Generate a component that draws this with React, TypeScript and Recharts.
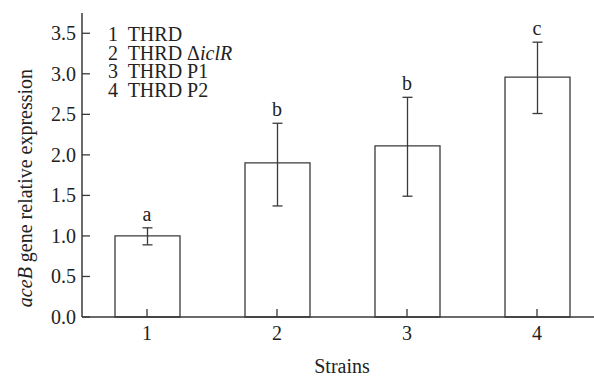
import React from 'react'
import {
  Bar,
  ComposedChart,
  ErrorBar,
  LabelList,
  Line,
  XAxis,
  YAxis,
} from 'recharts'

const strains = ['1', '2', '3', '4']
const expression = [1.0, 1.9, 2.11, 2.96]
const errLow = [0.11, 0.53, 0.62, 0.45]
const errHigh = [0.1, 0.49, 0.6, 0.43]
const letters = ['a', 'b', 'b', 'c']
const legendNames = ['THRD', 'THRD Δ', 'THRD P1', 'THRD P2']
const yTicks = [0, 0.5, 1, 1.5, 2, 2.5, 3, 3.5]

const data = strains.map((s, i) => ({
  strain: s,
  value: expression[i],
  err: [errLow[i], errHigh[i]],
  top: expression[i] + errHigh[i],
  letter: letters[i],
}))

const font = '"Liberation Serif", "Times New Roman", serif'
const fs = 20
const ink = '#222'
const line = '#3a3a3a'

function YTick(props: any) {
  const { x, y, payload } = props
  return (
    <g>
      <line x1={x + 6} x2={x + 14} y1={y} y2={y} stroke={line} strokeWidth={1.3} />
      <text x={x} y={y} dy={7} textAnchor="end" fontSize={fs} fontFamily={font} fill={ink}>
        {payload.value.toFixed(1)}
      </text>
    </g>
  )
}

function XTick(props: any) {
  const { x, y, payload } = props
  return (
    <g>
      <line x1={x} x2={x} y1={y - 8} y2={y - 16} stroke={line} strokeWidth={1.3} />
      <text x={x} y={y} dy={15} textAnchor="middle" fontSize={fs} fontFamily={font} fill={ink}>
        {payload.value}
      </text>
    </g>
  )
}

export default function App() {
  return (
    <div style={{ position: 'absolute', left: 0, top: 0, width: 594, height: 376, overflow: 'hidden', background: '#fff' }}>
      <ComposedChart
        width={610}
        height={376}
        data={data}
        margin={{ top: 13, right: 8, bottom: 0, left: 0 }}
      >
        <XAxis
          dataKey="strain"
          tickLine={false}
          tickSize={0}
          tickMargin={8}
          axisLine={{ stroke: line, strokeWidth: 1.5 }}
          tick={<XTick />}
          height={59}
          label={{
            content: (p: any) => {
              const vb = p.viewBox
              return (
                <text
                  x={vb.x + vb.width / 2}
                  y={vb.y + 56}
                  textAnchor="middle"
                  fontSize={fs}
                  fontFamily={font}
                  fill={ink}
                >
                  Strains
                </text>
              )
            },
          }}
        />
        <YAxis
          width={82}
          domain={[0, 3.75]}
          ticks={yTicks}
          tickLine={false}
          tickSize={0}
          tickMargin={6}
          axisLine={{ stroke: line, strokeWidth: 1.5 }}
          tick={<YTick />}
          label={{
            content: (p: any) => {
              const vb = p.viewBox
              const cx = vb.x + 25
              const cy = 188
              return (
                <text
                  x={cx}
                  y={cy}
                  transform={`rotate(-90 ${cx} ${cy})`}
                  textAnchor="middle"
                  dominantBaseline="central"
                  fontSize={fs}
                  fontFamily={font}
                  fill={ink}
                >
                  <tspan fontStyle="italic">aceB</tspan> gene relative expression
                </text>
              )
            },
          }}
        />
        <Bar
          dataKey="value"
          barSize={65}
          fill="#fff"
          stroke={line}
          strokeWidth={1.3}
          isAnimationActive={false}
        >
          <ErrorBar dataKey="err" width={5} stroke={line} strokeWidth={1.3} />
        </Bar>
        <Line
          dataKey="top"
          stroke="none"
          dot={false}
          activeDot={false}
          isAnimationActive={false}
        >
          <LabelList
            dataKey="letter"
            position="top"
            offset={7}
            fontSize={fs}
            fontFamily={font}
            fill={ink}
          />
        </Line>
      </ComposedChart>
      <div
        style={{
          position: 'absolute',
          left: 108,
          top: 25,
          fontFamily: font,
          fontSize: fs,
          lineHeight: '18.5px',
          color: ink,
        }}
      >
        {legendNames.map((n, i) => (
          <div key={i} style={{ whiteSpace: 'pre' }}>
            {`${i + 1}  ${n}`}
            {i === 1 ? <i>iclR</i> : null}
          </div>
        ))}
      </div>
    </div>
  )
}
